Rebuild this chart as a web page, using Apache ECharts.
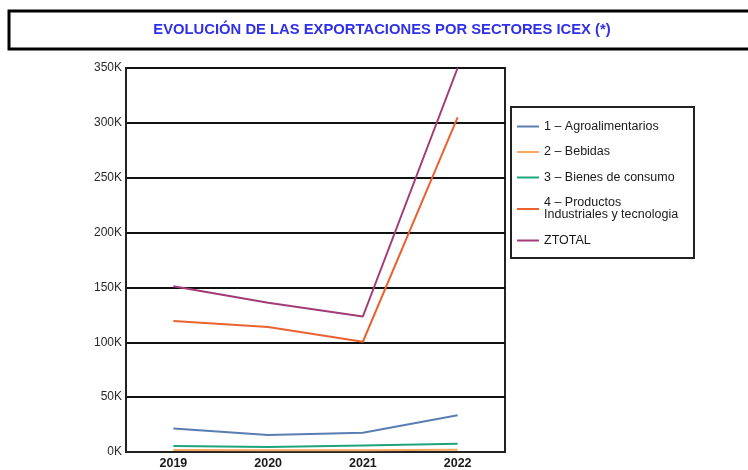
<!DOCTYPE html>
<html>
<head>
<meta charset="utf-8">
<script src="https://cdn.jsdelivr.net/npm/echarts@6/dist/echarts.min.js"></script>
<style>
  html, body { margin: 0; padding: 0; background: #fff; }
  #chart { width: 748px; height: 470px; }
</style>
</head>
<body>
<div id="chart"></div>
<script>
// años
var years = ['2019', '2020', '2021', '2022'];
// valores por sector (euros)
var agro = [21500, 15500, 17500, 33500];
var bebidas = [1800, 1600, 1700, 2000];
var consumo = [5500, 4500, 6000, 7500];
var industriales = [119500, 114000, 100500, 305000];
var ztotal = [151000, 136000, 123500, 350000];
var yTicks = [0, 50000, 100000, 150000, 200000, 250000, 300000, 350000];

var FONT = 'Liberation Sans, Arial, sans-serif';

function linea(name, data, color) {
  return {
    name: name,
    type: 'line',
    data: data,
    symbol: 'none',
    lineStyle: { width: 2, color: color },
    itemStyle: { color: color }
  };
}

var legendNames = {
  '4 – Productos Industriales y tecnología': '4 – Productos\nIndustriales y tecnologia'
};

var chart = echarts.init(document.getElementById('chart'));
chart.setOption({
  animation: false,
  backgroundColor: '#fff',
  graphic: [
    {
      type: 'rect',
      shape: { x: 9, y: 11, width: 760, height: 38 },
      style: { fill: '#fff', stroke: '#000', lineWidth: 3 }
    },
    {
      type: 'text',
      x: 382, y: 30,
      style: {
        text: 'EVOLUCIÓN DE LAS EXPORTACIONES POR SECTORES ICEX (*)',
        font: 'bold 14.8px ' + FONT,
        fill: '#3030e8',
        align: 'center',
        verticalAlign: 'middle'
      }
    },
    {
      type: 'rect',
      shape: { x: 511, y: 107, width: 183, height: 151 },
      style: { fill: 'none', stroke: '#222', lineWidth: 2 }
    }
  ],
  legend: {
    orient: 'vertical',
    left: 512,
    top: 115,
    itemWidth: 22,
    itemHeight: 2,
    itemGap: 12.5,
    icon: 'rect',
    textStyle: { fontFamily: FONT, fontSize: 12.5, color: '#1a1a1a', lineHeight: 12 },
    formatter: function (n) { return legendNames[n] || n; },
    data: ['1 – Agroalimentarios', '2 – Bebidas', '3 – Bienes de consumo',
      '4 – Productos Industriales y tecnología', 'ZTOTAL']
  },
  grid: {
    left: 126, right: 243, top: 68, bottom: 18,
    show: true, borderColor: '#222', borderWidth: 2
  },
  xAxis: {
    type: 'category',
    data: years,
    axisLine: { lineStyle: { color: '#222', width: 2 } },
    axisTick: { show: false },
    axisLabel: { fontFamily: FONT, fontSize: 12.5, fontWeight: 'bold', color: '#1a1a1a', margin: 5 }
  },
  yAxis: {
    type: 'value',
    min: 0,
    max: yTicks[yTicks.length - 1],
    interval: 50000,
    axisLine: { show: true, lineStyle: { color: '#222', width: 2 } },
    axisTick: { show: false },
    splitLine: { lineStyle: { color: '#111', width: 2 } },
    axisLabel: {
      fontFamily: FONT, fontSize: 12, color: '#2a2a2a', margin: 4,
      formatter: function (v) { return (v / 1000) + 'K'; }
    }
  },
  series: [
    linea('1 – Agroalimentarios', agro, '#5a7db3'),
    linea('2 – Bebidas', bebidas, '#f5a75e'),
    linea('3 – Bienes de consumo', consumo, '#1ea47c'),
    linea('4 – Productos Industriales y tecnología', industriales, '#ea6230'),
    linea('ZTOTAL', ztotal, '#a33b76')
  ]
});
</script>
</body>
</html>
